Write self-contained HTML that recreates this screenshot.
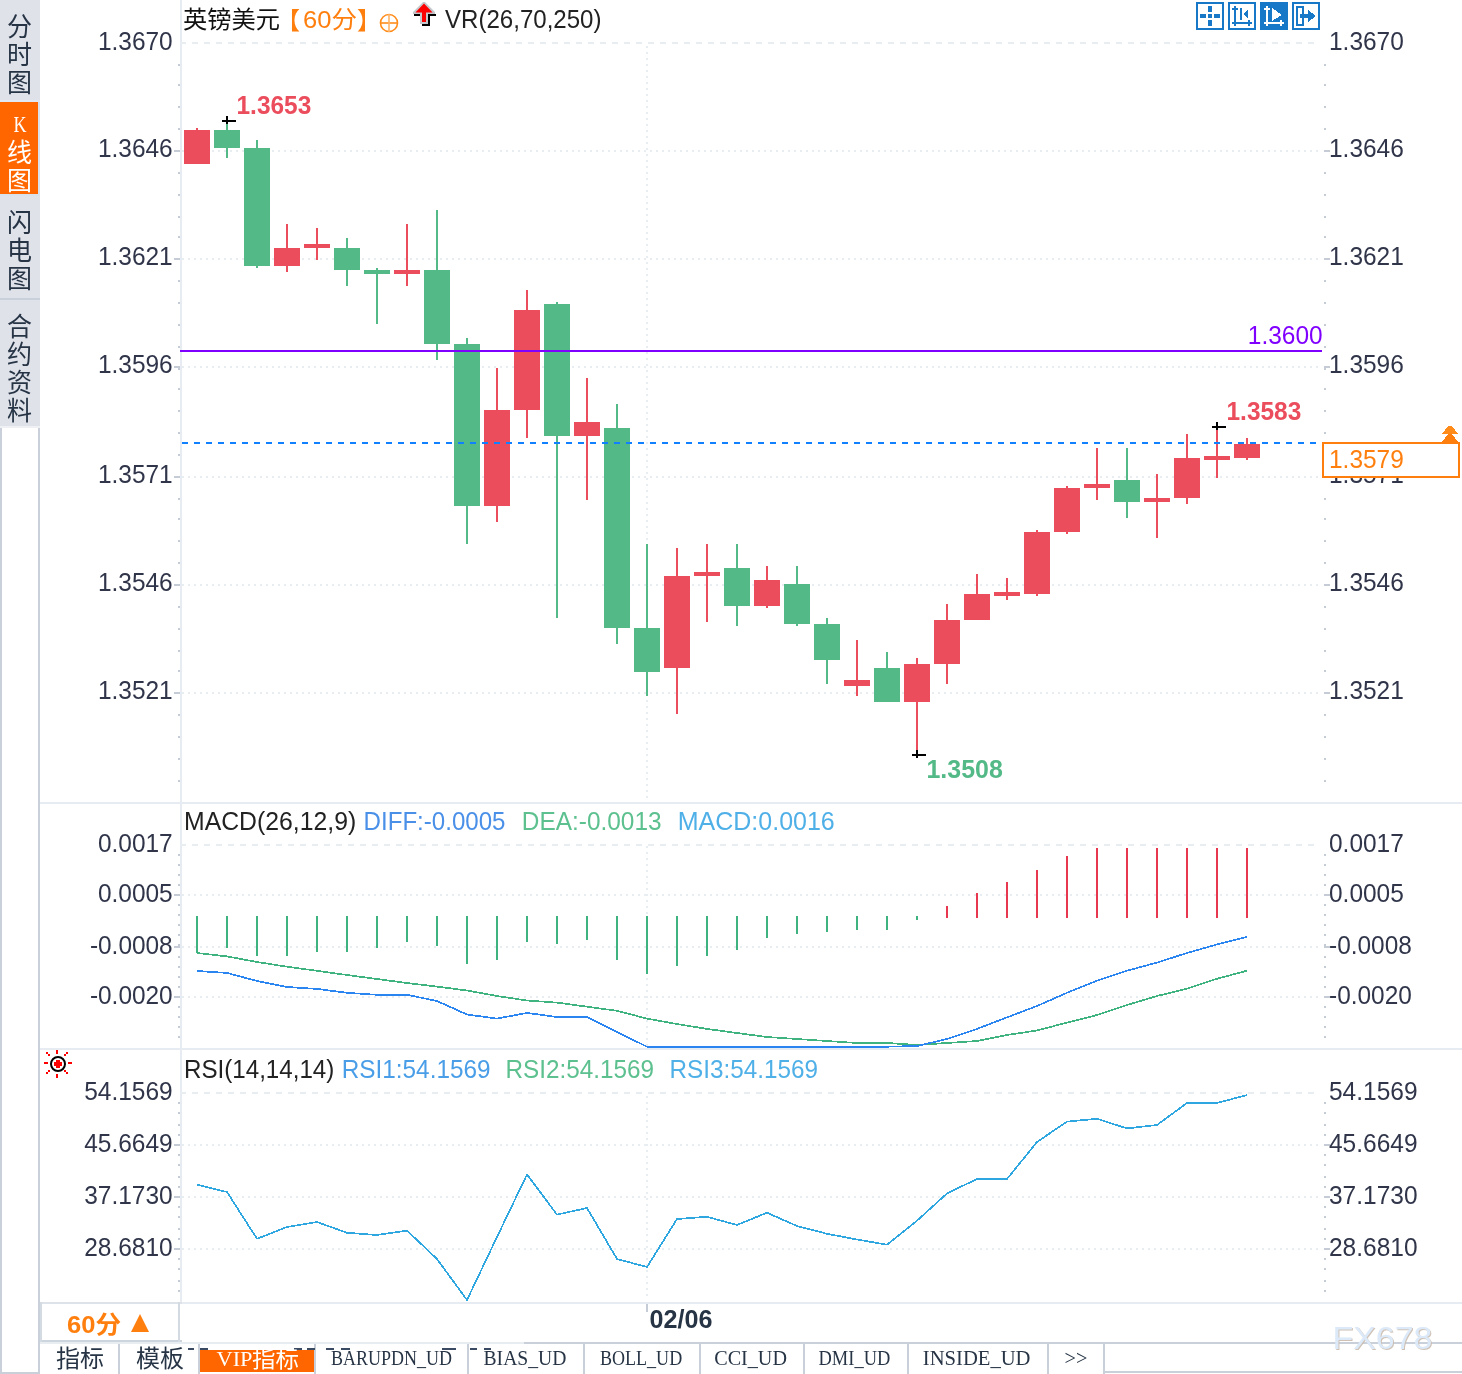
<!DOCTYPE html>
<html lang="zh"><head><meta charset="utf-8"><title>英镑美元 60分</title>
<style>html,body{margin:0;padding:0;background:#fff}svg{display:block}</style></head>
<body>
<svg width="1462" height="1374" viewBox="0 0 1462 1374" font-family='"Liberation Sans", "Noto Sans CJK SC", sans-serif'>
<rect x="0" y="0" width="1462" height="1374" fill="#ffffff" />
<g shape-rendering="crispEdges">
<rect x="0" y="0" width="40" height="428" fill="#e0e2ea" />
<rect x="0" y="102" width="38" height="92" fill="#ff6600" />
<rect x="38" y="102" width="2" height="92" fill="#d8e1ec" />
<rect x="0" y="298" width="40" height="2" fill="#c9d0da" />
<rect x="0" y="194" width="40" height="2" fill="#d9e1ea" />
<rect x="0" y="100" width="40" height="2" fill="#dfe8f3" />
<rect x="0" y="428" width="2" height="946" fill="#c9d0da" />
<rect x="38" y="428" width="2" height="946" fill="#c9d0da" />
<rect x="0" y="426" width="40" height="2" fill="#eef0f4" />
<rect x="40" y="802" width="1422" height="2" fill="#e6ecf1" />
<rect x="40" y="1048" width="1422" height="2" fill="#e6ecf1" />
<rect x="40" y="1302" width="1422" height="2" fill="#e6ecf1" />
<rect x="180" y="0" width="2" height="1304" fill="#e6ecf1" />
<line x1="180" y1="43" x2="1318" y2="43" stroke="#e8edf2" stroke-width="2" stroke-dasharray="6 6"/>
<line x1="182" y1="151" x2="1318" y2="151" stroke="#e8edf2" stroke-width="2" stroke-dasharray="2 4"/>
<line x1="182" y1="259" x2="1318" y2="259" stroke="#e8edf2" stroke-width="2" stroke-dasharray="2 4"/>
<line x1="182" y1="367" x2="1318" y2="367" stroke="#e8edf2" stroke-width="2" stroke-dasharray="2 4"/>
<line x1="182" y1="477" x2="1318" y2="477" stroke="#e8edf2" stroke-width="2" stroke-dasharray="2 4"/>
<line x1="182" y1="585" x2="1318" y2="585" stroke="#e8edf2" stroke-width="2" stroke-dasharray="2 4"/>
<line x1="182" y1="693" x2="1318" y2="693" stroke="#e8edf2" stroke-width="2" stroke-dasharray="2 4"/>
<line x1="180" y1="845" x2="1318" y2="845" stroke="#e8edf2" stroke-width="2" stroke-dasharray="6 6"/>
<line x1="182" y1="895" x2="1318" y2="895" stroke="#e8edf2" stroke-width="2" stroke-dasharray="2 4"/>
<line x1="182" y1="947" x2="1318" y2="947" stroke="#e8edf2" stroke-width="2" stroke-dasharray="2 4"/>
<line x1="182" y1="997" x2="1318" y2="997" stroke="#e8edf2" stroke-width="2" stroke-dasharray="2 4"/>
<line x1="180" y1="1093" x2="1318" y2="1093" stroke="#e8edf2" stroke-width="2" stroke-dasharray="6 6"/>
<line x1="182" y1="1145" x2="1318" y2="1145" stroke="#e8edf2" stroke-width="2" stroke-dasharray="2 4"/>
<line x1="182" y1="1197" x2="1318" y2="1197" stroke="#e8edf2" stroke-width="2" stroke-dasharray="2 4"/>
<line x1="182" y1="1249" x2="1318" y2="1249" stroke="#e8edf2" stroke-width="2" stroke-dasharray="2 4"/>
<line x1="647" y1="46" x2="647" y2="800" stroke="#e8edf2" stroke-width="2" stroke-dasharray="2 4"/>
<line x1="647" y1="846" x2="647" y2="1046" stroke="#e8edf2" stroke-width="2" stroke-dasharray="2 4"/>
<line x1="647" y1="1096" x2="647" y2="1300" stroke="#e8edf2" stroke-width="2" stroke-dasharray="2 4"/>
<rect x="178" y="64" width="2" height="2" fill="#c5ccd6" />
<rect x="1324" y="64" width="2" height="2" fill="#c5ccd6" />
<rect x="178" y="84" width="2" height="2" fill="#c5ccd6" />
<rect x="1324" y="84" width="2" height="2" fill="#c5ccd6" />
<rect x="178" y="106" width="2" height="2" fill="#c5ccd6" />
<rect x="1324" y="106" width="2" height="2" fill="#c5ccd6" />
<rect x="178" y="128" width="2" height="2" fill="#c5ccd6" />
<rect x="1324" y="128" width="2" height="2" fill="#c5ccd6" />
<rect x="178" y="150" width="2" height="2" fill="#c5ccd6" />
<rect x="1324" y="150" width="2" height="2" fill="#c5ccd6" />
<rect x="178" y="172" width="2" height="2" fill="#c5ccd6" />
<rect x="1324" y="172" width="2" height="2" fill="#c5ccd6" />
<rect x="178" y="194" width="2" height="2" fill="#c5ccd6" />
<rect x="1324" y="194" width="2" height="2" fill="#c5ccd6" />
<rect x="178" y="216" width="2" height="2" fill="#c5ccd6" />
<rect x="1324" y="216" width="2" height="2" fill="#c5ccd6" />
<rect x="178" y="236" width="2" height="2" fill="#c5ccd6" />
<rect x="1324" y="236" width="2" height="2" fill="#c5ccd6" />
<rect x="178" y="258" width="2" height="2" fill="#c5ccd6" />
<rect x="1324" y="258" width="2" height="2" fill="#c5ccd6" />
<rect x="178" y="280" width="2" height="2" fill="#c5ccd6" />
<rect x="1324" y="280" width="2" height="2" fill="#c5ccd6" />
<rect x="178" y="302" width="2" height="2" fill="#c5ccd6" />
<rect x="1324" y="302" width="2" height="2" fill="#c5ccd6" />
<rect x="178" y="324" width="2" height="2" fill="#c5ccd6" />
<rect x="1324" y="324" width="2" height="2" fill="#c5ccd6" />
<rect x="178" y="346" width="2" height="2" fill="#c5ccd6" />
<rect x="1324" y="346" width="2" height="2" fill="#c5ccd6" />
<rect x="178" y="368" width="2" height="2" fill="#c5ccd6" />
<rect x="1324" y="368" width="2" height="2" fill="#c5ccd6" />
<rect x="178" y="388" width="2" height="2" fill="#c5ccd6" />
<rect x="1324" y="388" width="2" height="2" fill="#c5ccd6" />
<rect x="178" y="410" width="2" height="2" fill="#c5ccd6" />
<rect x="1324" y="410" width="2" height="2" fill="#c5ccd6" />
<rect x="178" y="432" width="2" height="2" fill="#c5ccd6" />
<rect x="1324" y="432" width="2" height="2" fill="#c5ccd6" />
<rect x="178" y="454" width="2" height="2" fill="#c5ccd6" />
<rect x="1324" y="454" width="2" height="2" fill="#c5ccd6" />
<rect x="178" y="476" width="2" height="2" fill="#c5ccd6" />
<rect x="1324" y="476" width="2" height="2" fill="#c5ccd6" />
<rect x="178" y="498" width="2" height="2" fill="#c5ccd6" />
<rect x="1324" y="498" width="2" height="2" fill="#c5ccd6" />
<rect x="178" y="518" width="2" height="2" fill="#c5ccd6" />
<rect x="1324" y="518" width="2" height="2" fill="#c5ccd6" />
<rect x="178" y="540" width="2" height="2" fill="#c5ccd6" />
<rect x="1324" y="540" width="2" height="2" fill="#c5ccd6" />
<rect x="178" y="562" width="2" height="2" fill="#c5ccd6" />
<rect x="1324" y="562" width="2" height="2" fill="#c5ccd6" />
<rect x="178" y="584" width="2" height="2" fill="#c5ccd6" />
<rect x="1324" y="584" width="2" height="2" fill="#c5ccd6" />
<rect x="178" y="606" width="2" height="2" fill="#c5ccd6" />
<rect x="1324" y="606" width="2" height="2" fill="#c5ccd6" />
<rect x="178" y="628" width="2" height="2" fill="#c5ccd6" />
<rect x="1324" y="628" width="2" height="2" fill="#c5ccd6" />
<rect x="178" y="650" width="2" height="2" fill="#c5ccd6" />
<rect x="1324" y="650" width="2" height="2" fill="#c5ccd6" />
<rect x="178" y="670" width="2" height="2" fill="#c5ccd6" />
<rect x="1324" y="670" width="2" height="2" fill="#c5ccd6" />
<rect x="178" y="692" width="2" height="2" fill="#c5ccd6" />
<rect x="1324" y="692" width="2" height="2" fill="#c5ccd6" />
<rect x="178" y="714" width="2" height="2" fill="#c5ccd6" />
<rect x="1324" y="714" width="2" height="2" fill="#c5ccd6" />
<rect x="178" y="736" width="2" height="2" fill="#c5ccd6" />
<rect x="1324" y="736" width="2" height="2" fill="#c5ccd6" />
<rect x="178" y="758" width="2" height="2" fill="#c5ccd6" />
<rect x="1324" y="758" width="2" height="2" fill="#c5ccd6" />
<rect x="178" y="780" width="2" height="2" fill="#c5ccd6" />
<rect x="1324" y="780" width="2" height="2" fill="#c5ccd6" />
<rect x="174" y="150" width="6" height="2" fill="#c5ccd6" />
<rect x="1324" y="150" width="6" height="2" fill="#c5ccd6" />
<rect x="174" y="258" width="6" height="2" fill="#c5ccd6" />
<rect x="1324" y="258" width="6" height="2" fill="#c5ccd6" />
<rect x="174" y="366" width="6" height="2" fill="#c5ccd6" />
<rect x="1324" y="366" width="6" height="2" fill="#c5ccd6" />
<rect x="174" y="476" width="6" height="2" fill="#c5ccd6" />
<rect x="1324" y="476" width="6" height="2" fill="#c5ccd6" />
<rect x="174" y="584" width="6" height="2" fill="#c5ccd6" />
<rect x="1324" y="584" width="6" height="2" fill="#c5ccd6" />
<rect x="174" y="692" width="6" height="2" fill="#c5ccd6" />
<rect x="1324" y="692" width="6" height="2" fill="#c5ccd6" />
<rect x="178" y="854" width="2" height="2" fill="#c5ccd6" />
<rect x="1324" y="854" width="2" height="2" fill="#c5ccd6" />
<rect x="178" y="864" width="2" height="2" fill="#c5ccd6" />
<rect x="1324" y="864" width="2" height="2" fill="#c5ccd6" />
<rect x="178" y="874" width="2" height="2" fill="#c5ccd6" />
<rect x="1324" y="874" width="2" height="2" fill="#c5ccd6" />
<rect x="178" y="884" width="2" height="2" fill="#c5ccd6" />
<rect x="1324" y="884" width="2" height="2" fill="#c5ccd6" />
<rect x="178" y="894" width="2" height="2" fill="#c5ccd6" />
<rect x="1324" y="894" width="2" height="2" fill="#c5ccd6" />
<rect x="178" y="904" width="2" height="2" fill="#c5ccd6" />
<rect x="1324" y="904" width="2" height="2" fill="#c5ccd6" />
<rect x="178" y="914" width="2" height="2" fill="#c5ccd6" />
<rect x="1324" y="914" width="2" height="2" fill="#c5ccd6" />
<rect x="178" y="924" width="2" height="2" fill="#c5ccd6" />
<rect x="1324" y="924" width="2" height="2" fill="#c5ccd6" />
<rect x="178" y="934" width="2" height="2" fill="#c5ccd6" />
<rect x="1324" y="934" width="2" height="2" fill="#c5ccd6" />
<rect x="178" y="944" width="2" height="2" fill="#c5ccd6" />
<rect x="1324" y="944" width="2" height="2" fill="#c5ccd6" />
<rect x="178" y="956" width="2" height="2" fill="#c5ccd6" />
<rect x="1324" y="956" width="2" height="2" fill="#c5ccd6" />
<rect x="178" y="966" width="2" height="2" fill="#c5ccd6" />
<rect x="1324" y="966" width="2" height="2" fill="#c5ccd6" />
<rect x="178" y="976" width="2" height="2" fill="#c5ccd6" />
<rect x="1324" y="976" width="2" height="2" fill="#c5ccd6" />
<rect x="178" y="986" width="2" height="2" fill="#c5ccd6" />
<rect x="1324" y="986" width="2" height="2" fill="#c5ccd6" />
<rect x="178" y="996" width="2" height="2" fill="#c5ccd6" />
<rect x="1324" y="996" width="2" height="2" fill="#c5ccd6" />
<rect x="178" y="1006" width="2" height="2" fill="#c5ccd6" />
<rect x="1324" y="1006" width="2" height="2" fill="#c5ccd6" />
<rect x="178" y="1016" width="2" height="2" fill="#c5ccd6" />
<rect x="1324" y="1016" width="2" height="2" fill="#c5ccd6" />
<rect x="178" y="1026" width="2" height="2" fill="#c5ccd6" />
<rect x="1324" y="1026" width="2" height="2" fill="#c5ccd6" />
<rect x="178" y="1036" width="2" height="2" fill="#c5ccd6" />
<rect x="1324" y="1036" width="2" height="2" fill="#c5ccd6" />
<rect x="174" y="894" width="6" height="2" fill="#c5ccd6" />
<rect x="1324" y="894" width="6" height="2" fill="#c5ccd6" />
<rect x="174" y="946" width="6" height="2" fill="#c5ccd6" />
<rect x="1324" y="946" width="6" height="2" fill="#c5ccd6" />
<rect x="174" y="996" width="6" height="2" fill="#c5ccd6" />
<rect x="1324" y="996" width="6" height="2" fill="#c5ccd6" />
<rect x="178" y="1102" width="2" height="2" fill="#c5ccd6" />
<rect x="1324" y="1102" width="2" height="2" fill="#c5ccd6" />
<rect x="178" y="1112" width="2" height="2" fill="#c5ccd6" />
<rect x="1324" y="1112" width="2" height="2" fill="#c5ccd6" />
<rect x="178" y="1124" width="2" height="2" fill="#c5ccd6" />
<rect x="1324" y="1124" width="2" height="2" fill="#c5ccd6" />
<rect x="178" y="1134" width="2" height="2" fill="#c5ccd6" />
<rect x="1324" y="1134" width="2" height="2" fill="#c5ccd6" />
<rect x="178" y="1144" width="2" height="2" fill="#c5ccd6" />
<rect x="1324" y="1144" width="2" height="2" fill="#c5ccd6" />
<rect x="178" y="1154" width="2" height="2" fill="#c5ccd6" />
<rect x="1324" y="1154" width="2" height="2" fill="#c5ccd6" />
<rect x="178" y="1164" width="2" height="2" fill="#c5ccd6" />
<rect x="1324" y="1164" width="2" height="2" fill="#c5ccd6" />
<rect x="178" y="1176" width="2" height="2" fill="#c5ccd6" />
<rect x="1324" y="1176" width="2" height="2" fill="#c5ccd6" />
<rect x="178" y="1186" width="2" height="2" fill="#c5ccd6" />
<rect x="1324" y="1186" width="2" height="2" fill="#c5ccd6" />
<rect x="178" y="1196" width="2" height="2" fill="#c5ccd6" />
<rect x="1324" y="1196" width="2" height="2" fill="#c5ccd6" />
<rect x="178" y="1206" width="2" height="2" fill="#c5ccd6" />
<rect x="1324" y="1206" width="2" height="2" fill="#c5ccd6" />
<rect x="178" y="1216" width="2" height="2" fill="#c5ccd6" />
<rect x="1324" y="1216" width="2" height="2" fill="#c5ccd6" />
<rect x="178" y="1228" width="2" height="2" fill="#c5ccd6" />
<rect x="1324" y="1228" width="2" height="2" fill="#c5ccd6" />
<rect x="178" y="1238" width="2" height="2" fill="#c5ccd6" />
<rect x="1324" y="1238" width="2" height="2" fill="#c5ccd6" />
<rect x="178" y="1248" width="2" height="2" fill="#c5ccd6" />
<rect x="1324" y="1248" width="2" height="2" fill="#c5ccd6" />
<rect x="178" y="1258" width="2" height="2" fill="#c5ccd6" />
<rect x="1324" y="1258" width="2" height="2" fill="#c5ccd6" />
<rect x="178" y="1268" width="2" height="2" fill="#c5ccd6" />
<rect x="1324" y="1268" width="2" height="2" fill="#c5ccd6" />
<rect x="178" y="1280" width="2" height="2" fill="#c5ccd6" />
<rect x="1324" y="1280" width="2" height="2" fill="#c5ccd6" />
<rect x="178" y="1290" width="2" height="2" fill="#c5ccd6" />
<rect x="1324" y="1290" width="2" height="2" fill="#c5ccd6" />
<rect x="174" y="1144" width="6" height="2" fill="#c5ccd6" />
<rect x="1324" y="1144" width="6" height="2" fill="#c5ccd6" />
<rect x="174" y="1196" width="6" height="2" fill="#c5ccd6" />
<rect x="1324" y="1196" width="6" height="2" fill="#c5ccd6" />
<rect x="174" y="1248" width="6" height="2" fill="#c5ccd6" />
<rect x="1324" y="1248" width="6" height="2" fill="#c5ccd6" />
<rect x="196" y="128" width="2" height="36" fill="#eb4d5c" />
<rect x="184" y="130" width="26" height="34" fill="#eb4d5c" />
<rect x="226" y="124" width="2" height="34" fill="#53b987" />
<rect x="214" y="130" width="26" height="18" fill="#53b987" />
<rect x="256" y="140" width="2" height="128" fill="#53b987" />
<rect x="244" y="148" width="26" height="118" fill="#53b987" />
<rect x="286" y="224" width="2" height="48" fill="#eb4d5c" />
<rect x="274" y="248" width="26" height="18" fill="#eb4d5c" />
<rect x="316" y="228" width="2" height="32" fill="#eb4d5c" />
<rect x="304" y="244" width="26" height="4" fill="#eb4d5c" />
<rect x="346" y="238" width="2" height="48" fill="#53b987" />
<rect x="334" y="248" width="26" height="22" fill="#53b987" />
<rect x="376" y="268" width="2" height="56" fill="#53b987" />
<rect x="364" y="270" width="26" height="4" fill="#53b987" />
<rect x="406" y="224" width="2" height="62" fill="#eb4d5c" />
<rect x="394" y="270" width="26" height="4" fill="#eb4d5c" />
<rect x="436" y="210" width="2" height="150" fill="#53b987" />
<rect x="424" y="270" width="26" height="74" fill="#53b987" />
<rect x="466" y="338" width="2" height="206" fill="#53b987" />
<rect x="454" y="344" width="26" height="162" fill="#53b987" />
<rect x="496" y="368" width="2" height="154" fill="#eb4d5c" />
<rect x="484" y="410" width="26" height="96" fill="#eb4d5c" />
<rect x="526" y="290" width="2" height="148" fill="#eb4d5c" />
<rect x="514" y="310" width="26" height="100" fill="#eb4d5c" />
<rect x="556" y="302" width="2" height="316" fill="#53b987" />
<rect x="544" y="304" width="26" height="132" fill="#53b987" />
<rect x="586" y="378" width="2" height="122" fill="#eb4d5c" />
<rect x="574" y="422" width="26" height="14" fill="#eb4d5c" />
<rect x="616" y="404" width="2" height="240" fill="#53b987" />
<rect x="604" y="428" width="26" height="200" fill="#53b987" />
<rect x="646" y="544" width="2" height="152" fill="#53b987" />
<rect x="634" y="628" width="26" height="44" fill="#53b987" />
<rect x="676" y="548" width="2" height="166" fill="#eb4d5c" />
<rect x="664" y="576" width="26" height="92" fill="#eb4d5c" />
<rect x="706" y="544" width="2" height="78" fill="#eb4d5c" />
<rect x="694" y="572" width="26" height="4" fill="#eb4d5c" />
<rect x="736" y="544" width="2" height="82" fill="#53b987" />
<rect x="724" y="568" width="26" height="38" fill="#53b987" />
<rect x="766" y="566" width="2" height="42" fill="#eb4d5c" />
<rect x="754" y="580" width="26" height="26" fill="#eb4d5c" />
<rect x="796" y="566" width="2" height="60" fill="#53b987" />
<rect x="784" y="584" width="26" height="40" fill="#53b987" />
<rect x="826" y="618" width="2" height="66" fill="#53b987" />
<rect x="814" y="624" width="26" height="36" fill="#53b987" />
<rect x="856" y="640" width="2" height="56" fill="#eb4d5c" />
<rect x="844" y="680" width="26" height="6" fill="#eb4d5c" />
<rect x="886" y="652" width="2" height="50" fill="#53b987" />
<rect x="874" y="668" width="26" height="34" fill="#53b987" />
<rect x="916" y="658" width="2" height="92" fill="#eb4d5c" />
<rect x="904" y="664" width="26" height="38" fill="#eb4d5c" />
<rect x="946" y="604" width="2" height="80" fill="#eb4d5c" />
<rect x="934" y="620" width="26" height="44" fill="#eb4d5c" />
<rect x="976" y="574" width="2" height="46" fill="#eb4d5c" />
<rect x="964" y="594" width="26" height="26" fill="#eb4d5c" />
<rect x="1006" y="578" width="2" height="22" fill="#eb4d5c" />
<rect x="994" y="592" width="26" height="4" fill="#eb4d5c" />
<rect x="1036" y="530" width="2" height="66" fill="#eb4d5c" />
<rect x="1024" y="532" width="26" height="62" fill="#eb4d5c" />
<rect x="1066" y="486" width="2" height="48" fill="#eb4d5c" />
<rect x="1054" y="488" width="26" height="44" fill="#eb4d5c" />
<rect x="1096" y="448" width="2" height="52" fill="#eb4d5c" />
<rect x="1084" y="484" width="26" height="4" fill="#eb4d5c" />
<rect x="1126" y="448" width="2" height="70" fill="#53b987" />
<rect x="1114" y="480" width="26" height="22" fill="#53b987" />
<rect x="1156" y="474" width="2" height="64" fill="#eb4d5c" />
<rect x="1144" y="498" width="26" height="4" fill="#eb4d5c" />
<rect x="1186" y="434" width="2" height="70" fill="#eb4d5c" />
<rect x="1174" y="458" width="26" height="40" fill="#eb4d5c" />
<rect x="1216" y="430" width="2" height="48" fill="#eb4d5c" />
<rect x="1204" y="456" width="26" height="4" fill="#eb4d5c" />
<rect x="1246" y="438" width="2" height="22" fill="#eb4d5c" />
<rect x="1234" y="444" width="26" height="14" fill="#eb4d5c" />
<rect x="180" y="350" width="1142" height="2" fill="#8000ff" />
<line x1="182" y1="443" x2="1320" y2="443" stroke="#1080ff" stroke-width="2" stroke-dasharray="6 6"/>
<rect x="222" y="120" width="14" height="2" fill="#000" />
<rect x="226" y="116" width="2" height="8" fill="#000" />
<rect x="912" y="754" width="14" height="2" fill="#000" />
<rect x="916" y="750" width="2" height="8" fill="#000" />
<rect x="1212" y="426" width="14" height="2" fill="#000" />
<rect x="1216" y="422" width="2" height="8" fill="#000" />
<rect x="196" y="916" width="2" height="37" fill="#3fb37f" />
<rect x="226" y="916" width="2" height="32" fill="#3fb37f" />
<rect x="256" y="916" width="2" height="40" fill="#3fb37f" />
<rect x="286" y="916" width="2" height="40" fill="#3fb37f" />
<rect x="316" y="916" width="2" height="36" fill="#3fb37f" />
<rect x="346" y="916" width="2" height="36" fill="#3fb37f" />
<rect x="376" y="916" width="2" height="32" fill="#3fb37f" />
<rect x="406" y="916" width="2" height="26" fill="#3fb37f" />
<rect x="436" y="916" width="2" height="30" fill="#3fb37f" />
<rect x="466" y="916" width="2" height="48" fill="#3fb37f" />
<rect x="496" y="916" width="2" height="44" fill="#3fb37f" />
<rect x="526" y="916" width="2" height="26" fill="#3fb37f" />
<rect x="556" y="916" width="2" height="28" fill="#3fb37f" />
<rect x="586" y="916" width="2" height="24" fill="#3fb37f" />
<rect x="616" y="916" width="2" height="44" fill="#3fb37f" />
<rect x="646" y="916" width="2" height="58" fill="#3fb37f" />
<rect x="676" y="916" width="2" height="50" fill="#3fb37f" />
<rect x="706" y="916" width="2" height="40" fill="#3fb37f" />
<rect x="736" y="916" width="2" height="34" fill="#3fb37f" />
<rect x="766" y="916" width="2" height="22" fill="#3fb37f" />
<rect x="796" y="916" width="2" height="18" fill="#3fb37f" />
<rect x="826" y="916" width="2" height="16" fill="#3fb37f" />
<rect x="856" y="916" width="2" height="14" fill="#3fb37f" />
<rect x="886" y="916" width="2" height="14" fill="#3fb37f" />
<rect x="916" y="916" width="2" height="4" fill="#3fb37f" />
<rect x="946" y="906" width="2" height="12" fill="#e8384f" />
<rect x="976" y="893" width="2" height="25" fill="#e8384f" />
<rect x="1006" y="882" width="2" height="36" fill="#e8384f" />
<rect x="1036" y="870" width="2" height="48" fill="#e8384f" />
<rect x="1066" y="856" width="2" height="62" fill="#e8384f" />
<rect x="1096" y="848" width="2" height="70" fill="#e8384f" />
<rect x="1126" y="848" width="2" height="70" fill="#e8384f" />
<rect x="1156" y="848" width="2" height="70" fill="#e8384f" />
<rect x="1186" y="848" width="2" height="70" fill="#e8384f" />
<rect x="1216" y="848" width="2" height="70" fill="#e8384f" />
<rect x="1246" y="848" width="2" height="70" fill="#e8384f" />
<polyline points="197,953 227,956.4 257,962 287,966.7 317,970.8 347,975 377,979 407,983 437,986.6 467,990.5 497,996 527,1000.5 557,1002.6 587,1006.7 617,1010.8 647,1018.6 677,1024 707,1028.9 737,1033 767,1037 797,1039 827,1041 857,1043 887,1043 917,1044.9 947,1043 977,1041 1007,1035 1037,1030.5 1067,1022.6 1097,1015 1127,1005 1157,996 1187,988.6 1217,978.8 1247,970.7" fill="none" stroke="#3fb37f" stroke-width="1.7" stroke-linejoin="round"/>
<polyline points="197,971 227,972.9 257,981 287,987 317,988.9 347,992.8 377,994.8 407,994.8 437,1001 467,1014.5 497,1018.6 527,1012.9 557,1017 587,1017 617,1032 647,1046.7 677,1046.7 707,1046.7 737,1046.7 767,1046.7 797,1046.7 827,1046.7 857,1046.7 887,1046.7 917,1046 947,1039 977,1028.9 1007,1017.4 1037,1006 1067,992.8 1097,980.7 1127,970.7 1157,962.6 1187,953 1217,944.4 1247,937" fill="none" stroke="#2a85f0" stroke-width="1.7" stroke-linejoin="round"/>
<polyline points="197,1184.6 227,1192 257,1238.8 287,1227 317,1222 347,1232.8 377,1235 407,1230.6 437,1259 467,1300 497,1237 527,1174.5 557,1214.6 587,1208 617,1259 647,1267 677,1219 707,1216.8 737,1225 767,1212.7 797,1226 827,1233.8 857,1239.5 887,1244.7 917,1220.7 947,1193.4 977,1179 1007,1179 1037,1142 1067,1121.6 1097,1118.8 1127,1128.4 1157,1125 1187,1103 1217,1103 1247,1095" fill="none" stroke="#2ea6e0" stroke-width="1.7" stroke-linejoin="round"/>
<rect x="646" y="1304" width="2" height="8" fill="#c5ccd6" />
<rect x="1322" y="442" width="138" height="36" fill="#ff7f0e" />
<rect x="1324" y="444" width="134" height="32" fill="#fff" />
<polygon points="1448,426 1452,426 1458,434 1442,434" fill="#ff8c1a"/><polygon points="1448,434 1452,434 1458,442 1442,442" fill="#ff7f0e"/>
<rect x="1196" y="2" width="28" height="28" fill="#1878c8" />
<rect x="1198" y="4" width="24" height="24" fill="#fff" />
<rect x="1228" y="2" width="28" height="28" fill="#1878c8" />
<rect x="1230" y="4" width="24" height="24" fill="#fff" />
<rect x="1260" y="2" width="28" height="28" fill="#1878c8" />
<rect x="1292" y="2" width="28" height="28" fill="#1878c8" />
<rect x="1294" y="4" width="24" height="24" fill="#fff" />
<rect x="1208" y="6" width="4" height="6" fill="#1878c8" />
<rect x="1208" y="20" width="4" height="6" fill="#1878c8" />
<rect x="1208" y="14" width="4" height="4" fill="#1878c8" />
<rect x="1200" y="14" width="6" height="4" fill="#1878c8" />
<rect x="1214" y="14" width="6" height="4" fill="#1878c8" />
<rect x="1234" y="6" width="2" height="20" fill="#1878c8" />
<rect x="1232" y="22" width="20" height="2" fill="#1878c8" />
<rect x="1232" y="8" width="6" height="2" fill="#1878c8" />
<rect x="1248" y="20" width="2" height="6" fill="#1878c8" />
<rect x="1240" y="8" width="2" height="12" fill="#1878c8" />
<polygon points="1243,14 1248,9 1248,19" fill="#1878c8"/>
<rect x="1266" y="6" width="2" height="20" fill="#fff" />
<rect x="1264" y="22" width="20" height="2" fill="#fff" />
<rect x="1264" y="8" width="6" height="2" fill="#fff" />
<rect x="1280" y="20" width="2" height="6" fill="#fff" />
<polygon points="1272,8 1282,15 1272,21" fill="#fff"/>
<rect x="1296" y="6" width="8" height="20" fill="#1878c8" />
<rect x="1298" y="8" width="4" height="16" fill="#fff" />
<rect x="1300" y="14" width="10" height="4" fill="#1878c8" />
<polygon points="1308,10 1316,16 1308,22" fill="#1878c8"/>
<rect x="40" y="1302" width="142" height="2" fill="#dde3e9" />
<rect x="40" y="1340" width="142" height="2" fill="#ccd4dd" />
<rect x="40" y="1302" width="2" height="40" fill="#d3dae2" />
<rect x="178" y="1302" width="2" height="40" fill="#d3dae2" />
<rect x="0" y="1372" width="40" height="2" fill="#c9d0da" />
<rect x="40" y="1342" width="484" height="2" fill="#e8edf1" />
<rect x="524" y="1342" width="938" height="2" fill="#c9d0da" />
<rect x="118" y="1344" width="2" height="30" fill="#c9d0da" />
<rect x="198" y="1344" width="2" height="30" fill="#c9d0da" />
<rect x="314" y="1344" width="2" height="30" fill="#c9d0da" />
<rect x="467" y="1344" width="2" height="30" fill="#c9d0da" />
<rect x="583" y="1344" width="2" height="30" fill="#c9d0da" />
<rect x="699" y="1344" width="2" height="30" fill="#c9d0da" />
<rect x="803" y="1344" width="2" height="30" fill="#c9d0da" />
<rect x="907" y="1344" width="2" height="30" fill="#c9d0da" />
<rect x="1047" y="1344" width="2" height="30" fill="#c9d0da" />
<rect x="1103" y="1344" width="2" height="30" fill="#c9d0da" />
<rect x="1103" y="1371" width="359" height="2" fill="#c9d0da" />
<rect x="200" y="1350" width="114" height="22" fill="#ff6600" />
<rect x="188" y="1348" width="6" height="2" fill="#3a4a63" />
<rect x="200" y="1348" width="8" height="2" fill="#3a4a63" />
<rect x="294" y="1348" width="8" height="2" fill="#3a4a63" />
<rect x="307" y="1348" width="8" height="2" fill="#3a4a63" />
<rect x="326" y="1348" width="8" height="2" fill="#3a4a63" />
<rect x="341" y="1348" width="9" height="2" fill="#3a4a63" />
<rect x="442" y="1348" width="14" height="2" fill="#3a4a63" />
<rect x="470" y="1348" width="7" height="2" fill="#3a4a63" />
<rect x="484" y="1348" width="7" height="2" fill="#3a4a63" />
</g>
<g shape-rendering="crispEdges">
<rect x="56" y="1060" width="4" height="8" fill="#ff0000" />
<rect x="54" y="1062" width="8" height="4" fill="#ff0000" />
<rect x="56" y="1050" width="2" height="4" fill="#ff0000" />
<rect x="56" y="1074" width="2" height="4" fill="#ff0000" />
<rect x="44" y="1062" width="4" height="2" fill="#ff0000" />
<rect x="68" y="1062" width="4" height="2" fill="#ff0000" />
<rect x="48" y="1054" width="2" height="2" fill="#ff0000" />
<rect x="46" y="1052" width="2" height="2" fill="#ff0000" />
<rect x="64" y="1054" width="2" height="2" fill="#ff0000" />
<rect x="66" y="1052" width="2" height="2" fill="#ff0000" />
<rect x="48" y="1070" width="2" height="2" fill="#ff0000" />
<rect x="46" y="1072" width="2" height="2" fill="#ff0000" />
<rect x="64" y="1070" width="2" height="2" fill="#ff0000" />
<rect x="66" y="1072" width="2" height="2" fill="#ff0000" />
</g>
<circle cx="58" cy="1064" r="7" fill="none" stroke="#000" stroke-width="2"/>
<circle cx="389" cy="23" r="8.5" fill="none" stroke="#ff8c1a" stroke-width="1.6"/><line x1="380" y1="23" x2="398" y2="23" stroke="#ff8c1a" stroke-width="1.6"/><line x1="389" y1="14" x2="389" y2="32" stroke="#ffb366" stroke-width="1.6"/>
<g shape-rendering="crispEdges">
<rect x="414" y="14" width="6" height="2" fill="#000" />
<rect x="428" y="14" width="8" height="2" fill="#000" />
<rect x="428" y="16" width="2" height="8" fill="#000" />
<rect x="422" y="24" width="8" height="2" fill="#000" />
</g>
<polygon points="423,2 425,2 435,12 435,14 428,14 428,24 420,24 420,14 413,14 413,12" fill="#c4c8cc"/>
<polygon points="424,3.6 432.6,12.4 426,12.4 426,22 422,22 422,12.4 415.4,12.4" fill="#ff0000"/>
<text transform="translate(19.5,35.80) scale(1,1.06)" font-size="25" fill="#263445" text-anchor="middle">分</text>
<text transform="translate(19.5,63.80) scale(1,1.06)" font-size="25" fill="#263445" text-anchor="middle">时</text>
<text transform="translate(19.5,91.81) scale(1,1.06)" font-size="25" fill="#263445" text-anchor="middle">图</text>
<text x="13.5" y="132" font-size="24" fill="#ffffff" textLength="13" lengthAdjust="spacingAndGlyphs" font-family='"Liberation Serif", serif'>K</text>
<text transform="translate(19.5,161.81) scale(1,1.06)" font-size="25" fill="#ffffff" text-anchor="middle">线</text>
<text transform="translate(19.5,189.81) scale(1,1.06)" font-size="25" fill="#ffffff" text-anchor="middle">图</text>
<text transform="translate(19.5,231.81) scale(1,1.06)" font-size="25" fill="#263445" text-anchor="middle">闪</text>
<text transform="translate(19.5,259.81) scale(1,1.06)" font-size="25" fill="#263445" text-anchor="middle">电</text>
<text transform="translate(19.5,287.81) scale(1,1.06)" font-size="25" fill="#263445" text-anchor="middle">图</text>
<text transform="translate(19.5,335.81) scale(1,1.06)" font-size="25" fill="#263445" text-anchor="middle">合</text>
<text transform="translate(19.5,363.81) scale(1,1.06)" font-size="25" fill="#263445" text-anchor="middle">约</text>
<text transform="translate(19.5,391.81) scale(1,1.06)" font-size="25" fill="#263445" text-anchor="middle">资</text>
<text transform="translate(19.5,419.81) scale(1,1.06)" font-size="25" fill="#263445" text-anchor="middle">料</text>
<text x="183.00" y="28" font-size="24" fill="#111" font-weight="normal" textLength="97.00" lengthAdjust="spacingAndGlyphs" >英镑美元</text>
<text x="276" y="29" font-size="24" fill="#ff7f0e">【</text>
<text x="303.00" y="28" font-size="24" fill="#ff7f0e" font-weight="normal" textLength="54.00" lengthAdjust="spacingAndGlyphs" >60分</text>
<text x="357" y="29" font-size="24" fill="#ff7f0e">】</text>
<text x="445.00" y="28" font-size="25" fill="#222" font-weight="normal" textLength="156.50" lengthAdjust="spacingAndGlyphs" >VR(26,70,250)</text>
<text x="97.90" y="50" font-size="25" fill="#30354a" font-weight="normal" textLength="74.80" lengthAdjust="spacingAndGlyphs" >1.3670</text>
<text x="1329.00" y="50" font-size="25" fill="#30354a" font-weight="normal" textLength="74.80" lengthAdjust="spacingAndGlyphs" >1.3670</text>
<text x="97.90" y="157" font-size="25" fill="#30354a" font-weight="normal" textLength="74.80" lengthAdjust="spacingAndGlyphs" >1.3646</text>
<text x="1329.00" y="157" font-size="25" fill="#30354a" font-weight="normal" textLength="74.80" lengthAdjust="spacingAndGlyphs" >1.3646</text>
<text x="97.90" y="265" font-size="25" fill="#30354a" font-weight="normal" textLength="74.80" lengthAdjust="spacingAndGlyphs" >1.3621</text>
<text x="1329.00" y="265" font-size="25" fill="#30354a" font-weight="normal" textLength="74.80" lengthAdjust="spacingAndGlyphs" >1.3621</text>
<text x="97.90" y="373" font-size="25" fill="#30354a" font-weight="normal" textLength="74.80" lengthAdjust="spacingAndGlyphs" >1.3596</text>
<text x="1329.00" y="373" font-size="25" fill="#30354a" font-weight="normal" textLength="74.80" lengthAdjust="spacingAndGlyphs" >1.3596</text>
<text x="97.90" y="483" font-size="25" fill="#30354a" font-weight="normal" textLength="74.80" lengthAdjust="spacingAndGlyphs" >1.3571</text>
<text x="97.90" y="591" font-size="25" fill="#30354a" font-weight="normal" textLength="74.80" lengthAdjust="spacingAndGlyphs" >1.3546</text>
<text x="1329.00" y="591" font-size="25" fill="#30354a" font-weight="normal" textLength="74.80" lengthAdjust="spacingAndGlyphs" >1.3546</text>
<text x="97.90" y="699" font-size="25" fill="#30354a" font-weight="normal" textLength="74.80" lengthAdjust="spacingAndGlyphs" >1.3521</text>
<text x="1329.00" y="699" font-size="25" fill="#30354a" font-weight="normal" textLength="74.80" lengthAdjust="spacingAndGlyphs" >1.3521</text>
<clipPath id="c1"><rect x="1322" y="478" width="140" height="12"/></clipPath>
<text x="1329.00" y="483" font-size="25" fill="#30354a" font-weight="normal" textLength="74.80" lengthAdjust="spacingAndGlyphs" clip-path="url(#c1)">1.3571</text>
<text x="1329.00" y="468" font-size="25" fill="#ff7f0e" font-weight="normal" textLength="74.80" lengthAdjust="spacingAndGlyphs" >1.3579</text>
<text x="97.90" y="852" font-size="25" fill="#30354a" font-weight="normal" textLength="74.80" lengthAdjust="spacingAndGlyphs" >0.0017</text>
<text x="1329.00" y="852" font-size="25" fill="#30354a" font-weight="normal" textLength="74.80" lengthAdjust="spacingAndGlyphs" >0.0017</text>
<text x="97.90" y="902" font-size="25" fill="#30354a" font-weight="normal" textLength="74.80" lengthAdjust="spacingAndGlyphs" >0.0005</text>
<text x="1329.00" y="902" font-size="25" fill="#30354a" font-weight="normal" textLength="74.80" lengthAdjust="spacingAndGlyphs" >0.0005</text>
<text x="89.90" y="954" font-size="25" fill="#30354a" font-weight="normal" textLength="82.80" lengthAdjust="spacingAndGlyphs" >-0.0008</text>
<text x="1329.00" y="954" font-size="25" fill="#30354a" font-weight="normal" textLength="82.80" lengthAdjust="spacingAndGlyphs" >-0.0008</text>
<text x="89.90" y="1004" font-size="25" fill="#30354a" font-weight="normal" textLength="82.80" lengthAdjust="spacingAndGlyphs" >-0.0020</text>
<text x="1329.00" y="1004" font-size="25" fill="#30354a" font-weight="normal" textLength="82.80" lengthAdjust="spacingAndGlyphs" >-0.0020</text>
<text x="84.20" y="1100" font-size="25" fill="#30354a" font-weight="normal" textLength="88.50" lengthAdjust="spacingAndGlyphs" >54.1569</text>
<text x="1329.00" y="1100" font-size="25" fill="#30354a" font-weight="normal" textLength="88.50" lengthAdjust="spacingAndGlyphs" >54.1569</text>
<text x="84.20" y="1152" font-size="25" fill="#30354a" font-weight="normal" textLength="88.50" lengthAdjust="spacingAndGlyphs" >45.6649</text>
<text x="1329.00" y="1152" font-size="25" fill="#30354a" font-weight="normal" textLength="88.50" lengthAdjust="spacingAndGlyphs" >45.6649</text>
<text x="84.20" y="1204" font-size="25" fill="#30354a" font-weight="normal" textLength="88.50" lengthAdjust="spacingAndGlyphs" >37.1730</text>
<text x="1329.00" y="1204" font-size="25" fill="#30354a" font-weight="normal" textLength="88.50" lengthAdjust="spacingAndGlyphs" >37.1730</text>
<text x="84.20" y="1256" font-size="25" fill="#30354a" font-weight="normal" textLength="88.50" lengthAdjust="spacingAndGlyphs" >28.6810</text>
<text x="1329.00" y="1256" font-size="25" fill="#30354a" font-weight="normal" textLength="88.50" lengthAdjust="spacingAndGlyphs" >28.6810</text>
<text x="236.50" y="114" font-size="25" fill="#eb4d5c" font-weight="bold" textLength="74.80" lengthAdjust="spacingAndGlyphs" >1.3653</text>
<text x="1226.50" y="420" font-size="25" fill="#eb4d5c" font-weight="bold" textLength="74.80" lengthAdjust="spacingAndGlyphs" >1.3583</text>
<text x="926.50" y="778" font-size="25" fill="#53b987" font-weight="bold" textLength="76.30" lengthAdjust="spacingAndGlyphs" >1.3508</text>
<text x="1247.80" y="344" font-size="25" fill="#8000ff" font-weight="normal" textLength="74.80" lengthAdjust="spacingAndGlyphs" >1.3600</text>
<text x="184.00" y="830" font-size="25" fill="#222" font-weight="normal" textLength="172.20" lengthAdjust="spacingAndGlyphs" >MACD(26,12,9)</text>
<text x="363.60" y="830" font-size="25" fill="#4a90e8" font-weight="normal" textLength="141.90" lengthAdjust="spacingAndGlyphs" >DIFF:-0.0005</text>
<text x="521.80" y="830" font-size="25" fill="#5cc08f" font-weight="normal" textLength="139.80" lengthAdjust="spacingAndGlyphs" >DEA:-0.0013</text>
<text x="677.70" y="830" font-size="25" fill="#4fb0e8" font-weight="normal" textLength="157.10" lengthAdjust="spacingAndGlyphs" >MACD:0.0016</text>
<text x="184.00" y="1078" font-size="25" fill="#222" font-weight="normal" textLength="150.30" lengthAdjust="spacingAndGlyphs" >RSI(14,14,14)</text>
<text x="341.70" y="1078" font-size="25" fill="#4a9ee8" font-weight="normal" textLength="148.90" lengthAdjust="spacingAndGlyphs" >RSI1:54.1569</text>
<text x="505.40" y="1078" font-size="25" fill="#5cc08f" font-weight="normal" textLength="148.60" lengthAdjust="spacingAndGlyphs" >RSI2:54.1569</text>
<text x="669.50" y="1078" font-size="25" fill="#4fb0e8" font-weight="normal" textLength="148.50" lengthAdjust="spacingAndGlyphs" >RSI3:54.1569</text>
<text x="649.50" y="1328" font-size="25" fill="#263445" font-weight="bold" textLength="62.90" lengthAdjust="spacingAndGlyphs" >02/06</text>
<text x="67.00" y="1333" font-size="24" fill="#ff7f0e" font-weight="bold" textLength="54.00" lengthAdjust="spacingAndGlyphs" >60分</text>
<polygon points="140,1314 149,1332 131,1332" fill="#ff7f0e"/>
<text x="56.00" y="1367" font-size="24" fill="#263445" font-weight="normal" textLength="48.00" lengthAdjust="spacingAndGlyphs" >指标</text>
<text x="136.00" y="1367" font-size="24" fill="#263445" font-weight="normal" textLength="48.00" lengthAdjust="spacingAndGlyphs" >模板</text>
<text x="216.50" y="1366" font-size="21" fill="#ffffff" font-weight="normal" font-family='"Liberation Serif", serif' textLength="36.00" lengthAdjust="spacingAndGlyphs" >VIP</text>
<text x="252.00" y="1367" font-size="23" fill="#ffffff" font-weight="normal" textLength="47.00" lengthAdjust="spacingAndGlyphs" >指标</text>
<text x="331.00" y="1365" font-size="21" fill="#263445" font-weight="normal" font-family='"Liberation Serif", serif' textLength="121.00" lengthAdjust="spacingAndGlyphs" >BARUPDN_UD</text>
<text x="483.50" y="1365" font-size="21" fill="#263445" font-weight="normal" font-family='"Liberation Serif", serif' textLength="83.00" lengthAdjust="spacingAndGlyphs" >BIAS_UD</text>
<text x="599.90" y="1365" font-size="21" fill="#263445" font-weight="normal" font-family='"Liberation Serif", serif' textLength="82.30" lengthAdjust="spacingAndGlyphs" >BOLL_UD</text>
<text x="714.20" y="1365" font-size="21" fill="#263445" font-weight="normal" font-family='"Liberation Serif", serif' textLength="72.80" lengthAdjust="spacingAndGlyphs" >CCI_UD</text>
<text x="818.50" y="1365" font-size="21" fill="#263445" font-weight="normal" font-family='"Liberation Serif", serif' textLength="71.80" lengthAdjust="spacingAndGlyphs" >DMI_UD</text>
<text x="922.80" y="1365" font-size="21" fill="#263445" font-weight="normal" font-family='"Liberation Serif", serif' textLength="107.70" lengthAdjust="spacingAndGlyphs" >INSIDE_UD</text>
<text x="1064.50" y="1365" font-size="21" fill="#263445" font-weight="normal" font-family='"Liberation Serif", serif' textLength="22.80" lengthAdjust="spacingAndGlyphs" >&gt;&gt;</text>
<text x="1333.40" y="1350.2" font-size="31.5" fill="#cbbcae" font-weight="normal" textLength="100.10" lengthAdjust="spacingAndGlyphs" opacity="0.9">FX678</text>
<text x="1332.40" y="1349.2" font-size="31.5" fill="#dce9f8" font-weight="normal" textLength="100.10" lengthAdjust="spacingAndGlyphs" >FX678</text>
</svg>
</body></html>
